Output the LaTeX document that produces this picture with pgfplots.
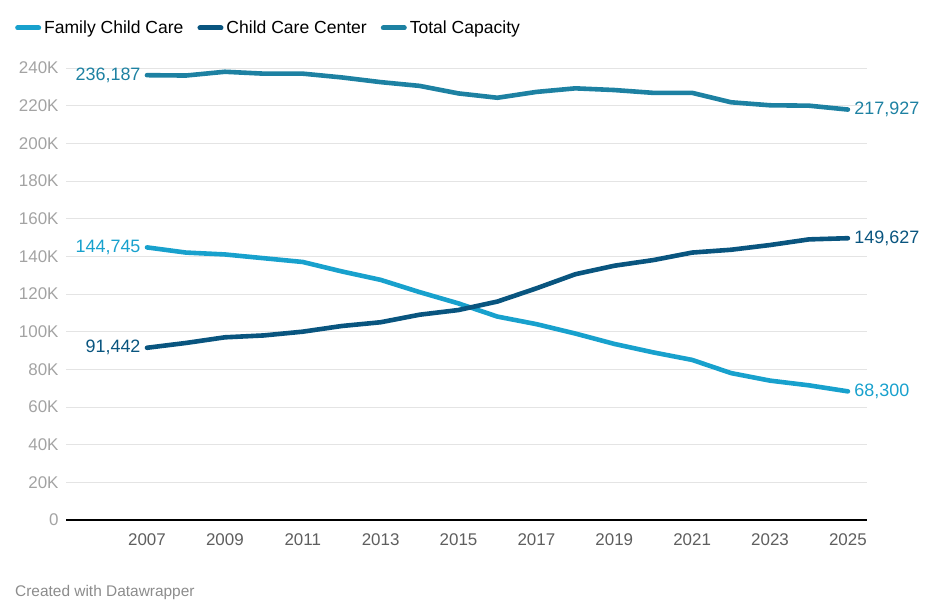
\documentclass[border=0pt]{standalone}
\usepackage{pgfplots}
\pgfplotsset{compat=1.18}
\usepackage{fontspec}
\setmainfont{Liberation Sans}
\definecolor{fam}{HTML}{18A1CD}
\definecolor{ctr}{HTML}{09557F}
\definecolor{tot}{HTML}{1D81A2}
\definecolor{gridc}{HTML}{E4E4E4}
\definecolor{ylab}{HTML}{A3A3A3}
\definecolor{xlab}{HTML}{5E5E5E}
\definecolor{foot}{HTML}{8C8C8C}
\begin{document}
\begin{tikzpicture}
\path[use as bounding box] (-66bp,-96bp) rectangle (870bp,520bp);
\begin{axis}[
  scale only axis, width=801bp, height=452bp,
  xmin=2004.92, xmax=2025.49, ymin=0, ymax=240000,
  scaled y ticks=false,
  axis x line=bottom, axis y line=left,
  x axis line style={-, black, line width=1.8bp},
  y axis line style={draw=none},
  major tick length=0pt,
  xtick={2007,2009,...,2025},
  xticklabels={2007,2009,2011,2013,2015,2017,2019,2021,2023,2025},
  ytick={0,20000,...,240000},
  yticklabels={0,20K,40K,60K,80K,100K,120K,140K,160K,180K,200K,220K,240K},
  ymajorgrids, grid style={gridc, line width=0.9bp},
  yticklabel style={font=\fontsize{17}{17}\selectfont, text=ylab, anchor=east, xshift=-4bp},
  xticklabel style={font=\fontsize{17}{17}\selectfont, text=xlab, yshift=-10bp},
  clip=false,
  legend columns=3,
  legend style={at={(axis description cs:-0.0637,1.0885)}, anchor=west, draw=none, fill=none,
    font=\fontsize{17.6}{17.6}\selectfont, inner sep=0pt,
    /tikz/every odd column/.append style={column sep=1bp},
    /tikz/every even column/.append style={column sep=12bp}},
  legend image code/.code={\draw[#1, line width=5bp, line cap=round] (0bp,0bp) -- (21bp,0bp);},
  every axis plot/.append style={line width=4.6bp, line join=round, line cap=round, mark=none},
]
\addplot[fam] coordinates {(2007,144745)(2008,142000)(2009,141000)(2010,139000)(2011,137000)(2012,132000)(2013,127500)(2014,121000)(2015,115000)(2016,108000)(2017,104000)(2018,99000)(2019,93500)(2020,89000)(2021,85000)(2022,78000)(2023,74000)(2024,71500)(2025,68300)};
\addlegendentry{Family Child Care}
\addplot[ctr] coordinates {(2007,91442)(2008,94000)(2009,97000)(2010,98000)(2011,100000)(2012,103000)(2013,105000)(2014,109000)(2015,111500)(2016,116000)(2017,123000)(2018,130500)(2019,135000)(2020,138000)(2021,142000)(2022,143500)(2023,146000)(2024,149000)(2025,149627)};
\addlegendentry{Child Care Center}
\addplot[tot] coordinates {(2007,236187)(2008,236000)(2009,238000)(2010,237000)(2011,237000)(2012,235000)(2013,232500)(2014,230500)(2015,226500)(2016,224200)(2017,227300)(2018,229200)(2019,228300)(2020,226800)(2021,226800)(2022,221800)(2023,220200)(2024,220000)(2025,217927)};
\addlegendentry{Total Capacity}
\node[anchor=east, text=tot, font=\fontsize{18}{18}\selectfont, xshift=-3bp] at (axis cs:2007,236187) {236,187};
\node[anchor=east, text=fam, font=\fontsize{18}{18}\selectfont, xshift=-3bp] at (axis cs:2007,144745) {144,745};
\node[anchor=east, text=ctr, font=\fontsize{18}{18}\selectfont, xshift=-3bp] at (axis cs:2007,91442) {91,442};
\node[anchor=west, text=tot, font=\fontsize{18}{18}\selectfont, xshift=3bp] at (axis cs:2025,217927) {217,927};
\node[anchor=west, text=ctr, font=\fontsize{18}{18}\selectfont, xshift=3bp] at (axis cs:2025,149627) {149,627};
\node[anchor=west, text=fam, font=\fontsize{18}{18}\selectfont, xshift=3bp] at (axis cs:2025,68300) {68,300};
\end{axis}
\node[anchor=west, text=foot, font=\fontsize{15.5}{15.5}\selectfont, inner sep=0pt] at (-51bp,-73bp) {Created with Datawrapper};
\end{tikzpicture}
\end{document}
